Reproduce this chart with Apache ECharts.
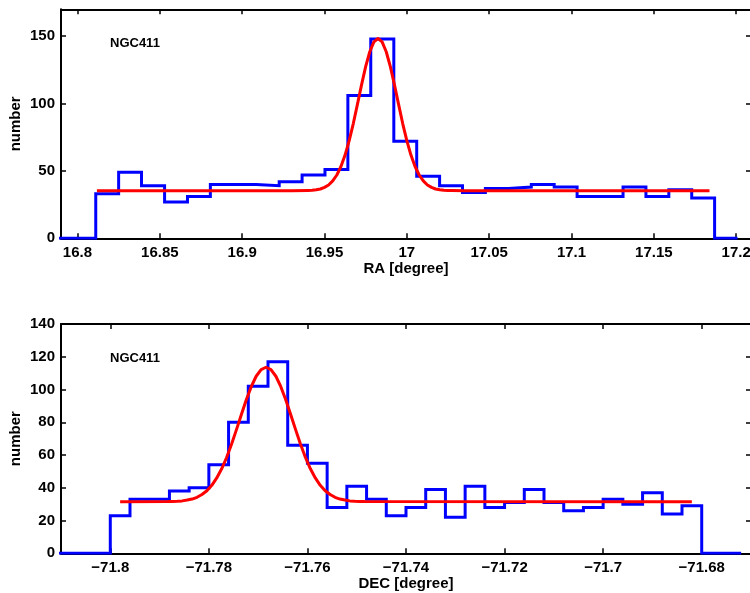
<!DOCTYPE html>
<html><head><meta charset="utf-8">
<script src="https://cdn.jsdelivr.net/npm/echarts@6/dist/echarts.min.js"></script>
<style>html,body{margin:0;padding:0;background:#fff}#c{width:750px;height:593px}</style>
</head><body><div id="c"></div>
<script>
// ---------- RA panel data ----------
const raEdges = [16.7833,16.7972,16.8111,16.8250,16.8389,16.8529,16.8668,16.8807,16.8946,16.9085,
  16.9225,16.9364,16.9503,16.9642,16.9781,16.9921,17.0060,17.0199,17.0338,17.0477,17.0617,
  17.0756,17.0895,17.1034,17.1173,17.1313,17.1452,17.1591,17.1730,17.1869,17.2008];
const raCounts = [0,0,33,49,39,27,31,40,40,39,42,47,51,106,148,72,46,39,34,37,38,40,38,31,31,38,31,36,30,0];
const raFitX = [16.8118,16.93,16.94,16.9425,16.945,16.9475,16.95,16.9525,16.955,16.9575,16.96,16.9625,16.965,16.9675,
  16.97,16.9725,16.975,16.9775,16.98,16.9825,16.985,16.9875,16.99,16.9925,16.995,16.9975,17.0,17.0025,17.005,
  17.0075,17.01,17.0125,17.015,17.0175,17.02,17.0225,17.025,17.0275,17.035,17.1838];
const raFitY = [35.3,35.3,35.5,35.6,36.0,36.6,37.8,39.6,42.6,47.0,53.3,61.8,72.5,85.2,
  99.4,113.9,127.4,138.5,145.8,148.3,145.8,138.5,127.4,113.9,99.4,85.2,72.5,61.8,53.3,
  47.0,42.6,39.6,37.8,36.6,36.0,35.6,35.5,35.4,35.3,35.3];
const raXTicks = [16.8,16.85,16.9,16.95,17,17.05,17.1,17.15,17.2];
const raYTicks = [0,50,100,150];

// ---------- DEC panel data ----------
const decEdges = [-71.812,-71.808,-71.804,-71.800,-71.796,-71.792,-71.788,-71.784,-71.780,-71.776,-71.772,
  -71.768,-71.764,-71.760,-71.756,-71.752,-71.748,-71.744,-71.740,-71.736,-71.732,-71.728,-71.724,
  -71.720,-71.716,-71.712,-71.708,-71.704,-71.700,-71.696,-71.692,-71.688,-71.684,-71.680,-71.676,-71.672];
const decCounts = [0,0,0,23,33,33,38,40,54,80,102,117,66,55,28,41,33,23,28,39,22,41,28,31,39,31,26,28,33,30,37,24,29,0,0];
const decFitX = [-71.798,-71.7884,-71.7874,-71.7864,-71.7854,-71.7844,-71.7834,-71.7824,-71.7814,-71.7804,-71.7794,
  -71.7784,-71.7774,-71.7764,-71.7754,-71.7744,-71.7734,-71.7724,-71.7714,-71.7704,-71.7694,-71.7684,
  -71.7674,-71.7664,-71.7654,-71.7644,-71.7634,-71.7624,-71.7614,-71.7604,-71.7594,-71.7584,-71.7574,
  -71.7564,-71.7554,-71.7544,-71.7534,-71.7524,-71.7514,-71.7504,-71.7494,-71.7484,-71.682];
const decFitY = [31.5,31.6,31.7,31.8,32.0,32.5,33.1,34.2,35.9,38.2,41.5,
  46.0,51.6,58.5,66.6,75.5,84.7,93.7,101.7,108.1,112.2,113.6,
  112.2,108.1,101.7,93.7,84.7,75.5,66.6,58.5,51.6,46.0,41.5,
  38.2,35.9,34.2,33.1,32.5,32.0,31.8,31.7,31.6,31.5];
const decXTicks = [-71.8,-71.78,-71.76,-71.74,-71.72,-71.7,-71.68];
const decYTicks = [0,20,40,60,80,100,120,140];

const FONT = 'Liberation Sans';
function stepData(edges, counts) {
  const d = counts.map((c, i) => [edges[i], c]);
  d.push([edges[edges.length - 1], counts[counts.length - 1]]);
  return d;
}
function pairs(xs, ys) { return xs.map((x, i) => [x, ys[i]]); }
const fmt = v => String(v).replace('-', '\u2212');
const labelStyle = { color: '#000', fontFamily: FONT, fontWeight: 'bold', fontSize: 15 };
const lineSt = { color: '#000', width: 2 };
const tickSt = { color: '#000', width: 1.5 };

function mainX(grid, min, max, ticks, name) {
  return {
    gridIndex: grid, type: 'value', position: 'bottom', min, max,
    axisLine: { onZero: false, lineStyle: lineSt },
    axisTick: { inside: true, length: 5, customValues: ticks, lineStyle: tickSt },
    axisLabel: Object.assign({ customValues: ticks, margin: 7, formatter: fmt }, labelStyle),
    splitLine: { show: false },
    name, nameLocation: 'middle', nameGap: 23, nameTextStyle: labelStyle
  };
}
function mirrorX(grid, min, max, ticks) {
  return {
    gridIndex: grid, type: 'value', position: 'top', min, max,
    axisLine: { onZero: false, lineStyle: lineSt },
    axisTick: { inside: true, length: 5, customValues: ticks, lineStyle: tickSt },
    axisLabel: { show: false }, splitLine: { show: false }
  };
}
function mainY(grid, min, max, ticks) {
  return {
    gridIndex: grid, type: 'value', position: 'left', min, max,
    axisLine: { show: true, onZero: false, lineStyle: lineSt },
    axisTick: { show: true, inside: true, length: 5, customValues: ticks, lineStyle: tickSt },
    axisLabel: Object.assign({ customValues: ticks, margin: 6 }, labelStyle),
    splitLine: { show: false },
    name: 'number', nameLocation: 'middle', nameGap: 38, nameRotate: 90, nameMoveOverlap: false,
    nameTextStyle: labelStyle
  };
}
function mirrorY(grid, min, max, ticks) {
  return {
    gridIndex: grid, type: 'value', position: 'right', min, max,
    axisLine: { show: true, onZero: false, lineStyle: lineSt },
    axisTick: { show: true, inside: true, length: 5, customValues: ticks, lineStyle: tickSt },
    axisLabel: { show: false }, splitLine: { show: false }
  };
}

const chart = echarts.init(document.getElementById('c'), null, { renderer: 'canvas' });
chart.setOption({
  animation: false,
  backgroundColor: '#fff',
  grid: [
    { left: 61, top: 9.3, width: 690, height: 229, containLabel: false, outerBoundsMode: 'none' },
    { left: 61, top: 324, width: 690, height: 229.3, containLabel: false, outerBoundsMode: 'none' }
  ],
  xAxis: [
    mainX(0, 16.79, 17.209, raXTicks, 'RA [degree]'),
    mirrorX(0, 16.79, 17.209, raXTicks),
    mainX(1, -71.81, -71.67, decXTicks, 'DEC [degree]'),
    mirrorX(1, -71.81, -71.67, decXTicks)
  ],
  yAxis: [
    mainY(0, 0, 170, raYTicks),
    mirrorY(0, 0, 170, raYTicks),
    mainY(1, 0, 140, decYTicks),
    mirrorY(1, 0, 140, decYTicks)
  ],
  graphic: [
    { type: 'text', left: 110, top: 37, style: { text: 'NGC411', font: 'bold 13px "Liberation Sans"', fill: '#000' } },
    { type: 'text', left: 110, top: 352, style: { text: 'NGC411', font: 'bold 13px "Liberation Sans"', fill: '#000' } }
  ],
  series: [
    { type: 'line', xAxisIndex: 0, yAxisIndex: 0, data: stepData(raEdges, raCounts), step: 'end',
      symbol: 'none', lineStyle: { color: '#0000ff', width: 3, join: 'miter' }, z: 2 },
    { type: 'line', xAxisIndex: 0, yAxisIndex: 0, data: pairs(raFitX, raFitY), smooth: false,
      symbol: 'none', lineStyle: { color: '#ff0000', width: 3, join: 'round' }, z: 3 },
    { type: 'line', xAxisIndex: 2, yAxisIndex: 2, data: stepData(decEdges, decCounts), step: 'end',
      symbol: 'none', lineStyle: { color: '#0000ff', width: 3, join: 'miter' }, z: 2 },
    { type: 'line', xAxisIndex: 2, yAxisIndex: 2, data: pairs(decFitX, decFitY), smooth: false,
      symbol: 'none', lineStyle: { color: '#ff0000', width: 3, join: 'round' }, z: 3 }
  ]
});
</script></body></html>
